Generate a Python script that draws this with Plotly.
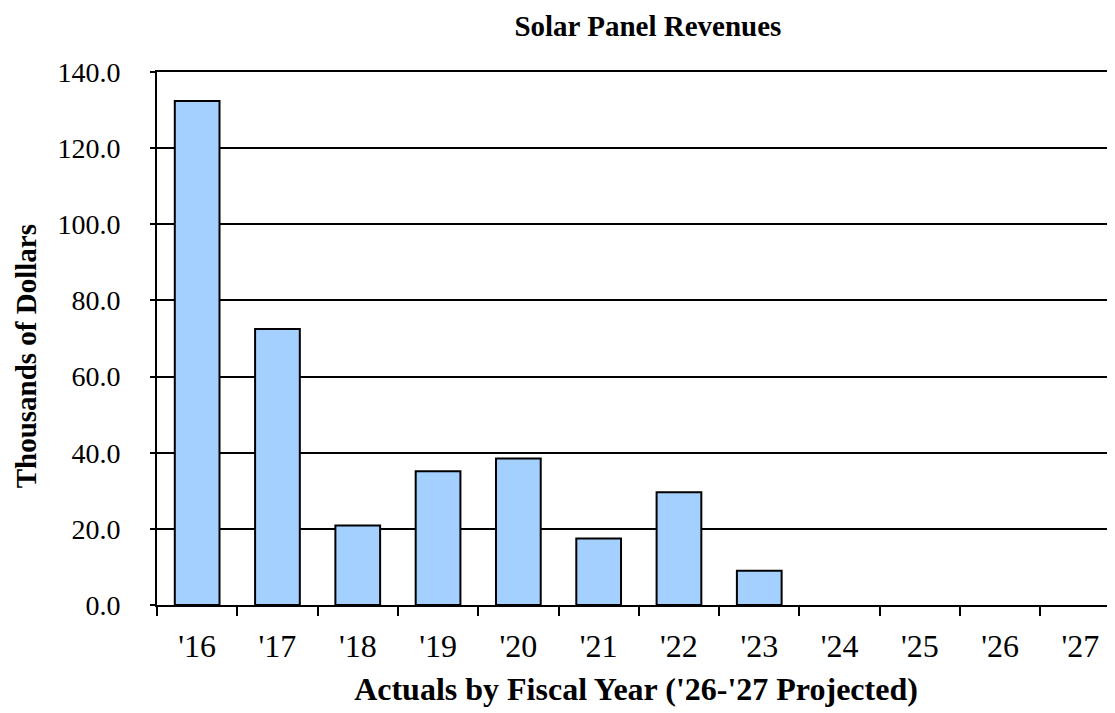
import plotly.graph_objects as go

categories = ["'16", "'17", "'18", "'19", "'20", "'21", "'22", "'23", "'24", "'25", "'26", "'27"]
revenues = [132.4, 72.5, 20.9, 35.1, 38.5, 17.5, 29.6, 9.0, None, None, None, None]
y_ticks = [0, 20, 40, 60, 80, 100, 120, 140]

FONT = "Liberation Serif"

fig = go.Figure()
fig.add_trace(go.Bar(
    x=categories,
    y=revenues,
    width=0.557,
    marker=dict(color="#a3d0ff", line=dict(color="black", width=2)),
    hoverinfo="x+y",
))

fig.update_layout(
    width=1107,
    height=705,
    margin=dict(l=149, r=0, t=64, b=108),
    paper_bgcolor="white",
    plot_bgcolor="white",
    showlegend=False,
    font=dict(family=FONT, color="black"),
    title=dict(
        text="<b>Solar Panel Revenues</b>",
        font=dict(family=FONT, size=29, color="black"),
        x=0.578, xanchor="center",
        y=0.974, yanchor="middle", yref="container",
    ),
    annotations=[dict(
        text="<b>Thousands of Dollars</b>",
        textangle=-90,
        xref="paper", yref="paper",
        x=-0.1365, y=0.467,
        xanchor="center", yanchor="middle",
        showarrow=False,
        font=dict(family=FONT, size=29, color="black"),
    )],
)

fig.update_xaxes(
    type="category",
    range=[-0.5, 11.43],
    showline=True, linecolor="black", linewidth=2, mirror=True,
    ticks="outside", tickson="boundaries", ticklen=9, tickwidth=2, tickcolor="black",
    tickfont=dict(family=FONT, size=32, color="black"),
    ticklabelstandoff=12,
    showgrid=False,
    title=dict(text="<b>Actuals by Fiscal Year ('26-'27 Projected)</b>",
               font=dict(family=FONT, size=32, color="black"), standoff=14),
)

fig.update_yaxes(
    range=[0, 140],
    tickvals=y_ticks,
    tickformat=".1f",
    showline=True, linecolor="black", linewidth=2,
    ticks="outside", ticklen=5, tickwidth=1.5, tickcolor="black",
    tickfont=dict(family=FONT, size=28, color="black"),
    ticklabelstandoff=24,
    showgrid=True, gridcolor="black", gridwidth=1.5,
    zeroline=False,
)

fig.write_html("out.html")
